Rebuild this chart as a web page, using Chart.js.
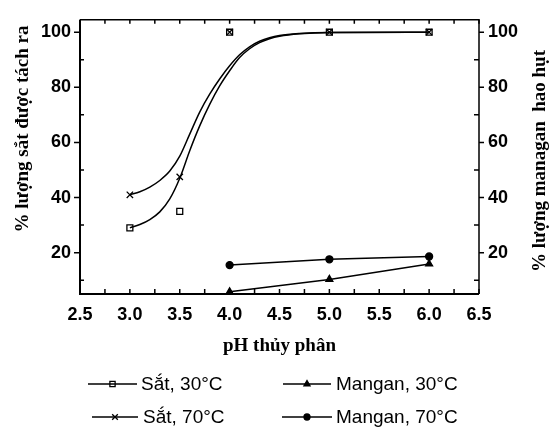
<!DOCTYPE html>
<html>
<head>
<meta charset="utf-8">
<script src="https://cdn.jsdelivr.net/npm/chart.js@4.4.1/dist/chart.umd.min.js"></script>
<style>
  html, body { margin: 0; padding: 0; background: #fff; }
</style>
</head>
<body>
<canvas id="c" width="550" height="436"></canvas>
<script>
// measured points
const phPoints = [3.0, 3.5, 4.0, 5.0, 6.0];
const sat30 = [29, 35, 100, 100, 100];
const sat70 = [41, 47.5, 100, 100, 100];
const manganPh = [4.0, 5.0, 6.0];
const mangan30 = [5.8, 10.3, 15.9];
const mangan70 = [15.5, 17.6, 18.6];

// fitted curves for iron
const fitPh = [3.0, 3.1, 3.2, 3.3, 3.4, 3.5, 3.6, 3.7, 3.8, 3.9, 4.0, 4.1, 4.2, 4.3, 4.4, 4.5, 4.7, 5.0, 6.0];
const fitSat30 = [29, 30.2, 32, 34.8, 39.5, 47, 57, 66, 73.8, 80.5, 86, 90.8, 94, 96.2, 97.6, 98.5, 99.4, 99.9, 100];
const fitSat70 = [41, 42.1, 43.8, 46.2, 49.6, 55, 63, 71, 77.5, 83, 87.8, 91.8, 94.7, 96.7, 98, 98.8, 99.5, 99.9, 100];

const xTicks = [2.5, 3.0, 3.5, 4.0, 4.5, 5.0, 5.5, 6.0, 6.5];
const yTicks = [20, 40, 60, 80, 100];
const seriesNames = ['Sắt, 30°C', 'Sắt, 70°C', 'Mangan, 30°C', 'Mangan, 70°C'];

const pts = (xs, ys) => xs.map((x, i) => ({ x: x, y: ys[i] }));
const sans = "'Liberation Sans', Arial, sans-serif";
const serif = "'Liberation Serif', 'Times New Roman', serif";

const markerSet = {
  borderColor: '#000', borderWidth: 1.5, pointBorderWidth: 1.3
};

const frame = {
  id: 'frame',
  beforeDatasetsDraw(chart) {
    const ctx = chart.ctx, a = chart.chartArea;
    const sx = chart.scales.x, sy = chart.scales.y;
    ctx.save();
    ctx.strokeStyle = '#000';
    ctx.lineWidth = 2;
    ctx.beginPath();
    ctx.moveTo(a.left, a.top); ctx.lineTo(a.left, a.bottom); ctx.lineTo(a.right, a.bottom);
    ctx.stroke();
    ctx.lineWidth = 1.5;
    ctx.beginPath();
    ctx.moveTo(a.left, a.top); ctx.lineTo(a.right, a.top); ctx.lineTo(a.right, a.bottom);
    ctx.stroke();
    // x ticks, inward, every quarter unit
    for (let i = 0; i < xTicks.length; i++) {
      const vals = [xTicks[i]];
      if (i < xTicks.length - 1) vals.push((xTicks[i] + xTicks[i + 1]) / 2);
      vals.forEach(v => {
        const px = sx.getPixelForValue(v);
        ctx.beginPath();
        ctx.moveTo(px, a.bottom); ctx.lineTo(px, a.bottom - 5);
        ctx.moveTo(px, a.top); ctx.lineTo(px, a.top + 4);
        ctx.stroke();
      });
    }
    // y ticks: major outward, minor inward
    const minors = [10, 30, 50, 70, 90];
    yTicks.forEach(v => {
      const py = sy.getPixelForValue(v);
      ctx.beginPath();
      ctx.moveTo(a.left, py); ctx.lineTo(a.left - 6, py);
      ctx.moveTo(a.right, py); ctx.lineTo(a.right + 5, py);
      ctx.stroke();
    });
    minors.forEach(v => {
      const py = sy.getPixelForValue(v);
      if (py > a.bottom) return;
      ctx.beginPath();
      ctx.moveTo(a.left, py); ctx.lineTo(a.left + 4, py);
      ctx.moveTo(a.right, py); ctx.lineTo(a.right - 5, py);
      ctx.stroke();
    });
    ctx.restore();
  },
  afterDraw(chart) {
    const ctx = chart.ctx;
    ctx.save();
    ctx.fillStyle = '#000';
    ctx.textAlign = 'center';
    ctx.textBaseline = 'middle';
    ctx.font = 'bold 19px ' + serif;
    ctx.translate(23, 129);
    ctx.rotate(-Math.PI / 2);
    ctx.fillText('% lượng sắt được tách ra', 0, 0);
    ctx.restore();
    ctx.save();
    ctx.fillStyle = '#000';
    ctx.textAlign = 'center';
    ctx.textBaseline = 'middle';
    ctx.font = 'bold 19px ' + serif;
    ctx.translate(540, 161);
    ctx.rotate(-Math.PI / 2);
    ctx.fillText('% lượng managan  hao hụt', 0, 0);
    ctx.restore();

    // legend, two columns
    const slots = [
      { x0: 88, x1: 137, tx: 141, y: 384 },
      { x0: 92, x1: 138, tx: 143, y: 417 },
      { x0: 283, x1: 331, tx: 336, y: 384 },
      { x0: 282, x1: 332, tx: 336, y: 417 }
    ];
    ctx.save();
    ctx.font = '19px ' + sans;
    ctx.textBaseline = 'middle';
    ctx.textAlign = 'left';
    for (let i = 0; i < 4; i++) {
      const ds = chart.data.datasets[i], s = slots[i];
      ctx.strokeStyle = '#000';
      ctx.lineWidth = 1.3;
      ctx.beginPath();
      ctx.moveTo(s.x0, s.y); ctx.lineTo(s.x1, s.y);
      ctx.stroke();
      ctx.fillStyle = ds.pointBackgroundColor;
      Chart.helpers.drawPoint(ctx, {
        pointStyle: ds.pointStyle, radius: ds.pointRadius - 0.5, rotation: 0, borderWidth: 1.2
      }, (s.x0 + s.x1) / 2, s.y);
      ctx.fillStyle = '#000';
      ctx.fillText(ds.label, s.tx, s.y + 1);
    }
    ctx.restore();
  }
};

new Chart(document.getElementById('c'), {
  type: 'scatter',
  data: {
    datasets: [
      Object.assign({
        label: seriesNames[0], data: pts(phPoints, sat30), showLine: false,
        pointStyle: 'rect', pointRadius: 4.2, pointBackgroundColor: 'rgba(255,255,255,0)'
      }, markerSet),
      Object.assign({
        label: seriesNames[1], data: pts(phPoints, sat70), showLine: false,
        pointStyle: 'crossRot', pointRadius: 4.5, pointBackgroundColor: '#000'
      }, markerSet),
      Object.assign({
        label: seriesNames[2], data: pts(manganPh, mangan30), showLine: true, yAxisID: 'y2',
        pointStyle: 'triangle', pointRadius: 4, pointBackgroundColor: '#000'
      }, markerSet),
      Object.assign({
        label: seriesNames[3], data: pts(manganPh, mangan70), showLine: true, yAxisID: 'y2',
        pointStyle: 'circle', pointRadius: 3.5, pointBackgroundColor: '#000'
      }, markerSet),
      {
        label: 'fit 30', data: pts(fitPh, fitSat30), showLine: true, pointRadius: 0,
        borderColor: '#000', borderWidth: 1.5, cubicInterpolationMode: 'monotone'
      },
      {
        label: 'fit 70', data: pts(fitPh, fitSat70), showLine: true, pointRadius: 0,
        borderColor: '#000', borderWidth: 1.5, cubicInterpolationMode: 'monotone'
      }
    ]
  },
  options: {
    responsive: false,
    animation: false,
    layout: { padding: { top: 9, left: 0, right: 0, bottom: 76 } },
    plugins: { legend: { display: false }, tooltip: { enabled: false } },
    scales: {
      x: {
        type: 'linear', min: 2.5, max: 6.5,
        afterBuildTicks: s => { s.ticks = xTicks.map(v => ({ value: v })); },
        afterFit: s => { s.height = 66; },
        grid: { display: false, drawTicks: false },
        border: { display: false },
        ticks: {
          callback: v => v.toFixed(1), color: '#000', padding: 10,
          maxRotation: 0, autoSkip: false,
          font: { family: sans, size: 18, weight: 'bold' }
        },
        title: {
          display: true, text: 'pH thủy phân', color: '#000',
          font: { family: serif, size: 19, weight: 'bold' },
          padding: { top: 0, bottom: 3 }
        }
      },
      y: {
        position: 'left', min: 5, max: 104.5,
        afterBuildTicks: s => { s.ticks = yTicks.map(v => ({ value: v })); },
        afterFit: s => { s.width = 80; },
        grid: { display: false, drawTicks: false },
        border: { display: false },
        ticks: { color: '#000', padding: 9, font: { family: sans, size: 18, weight: 'bold' } }
      },
      y2: {
        position: 'right', min: 5, max: 104.5,
        afterBuildTicks: s => { s.ticks = yTicks.map(v => ({ value: v })); },
        afterFit: s => { s.width = 71; },
        grid: { display: false, drawTicks: false },
        border: { display: false },
        ticks: { color: '#000', padding: 9, font: { family: sans, size: 18, weight: 'bold' } }
      }
    }
  },
  plugins: [frame]
});
</script>
</body>
</html>
